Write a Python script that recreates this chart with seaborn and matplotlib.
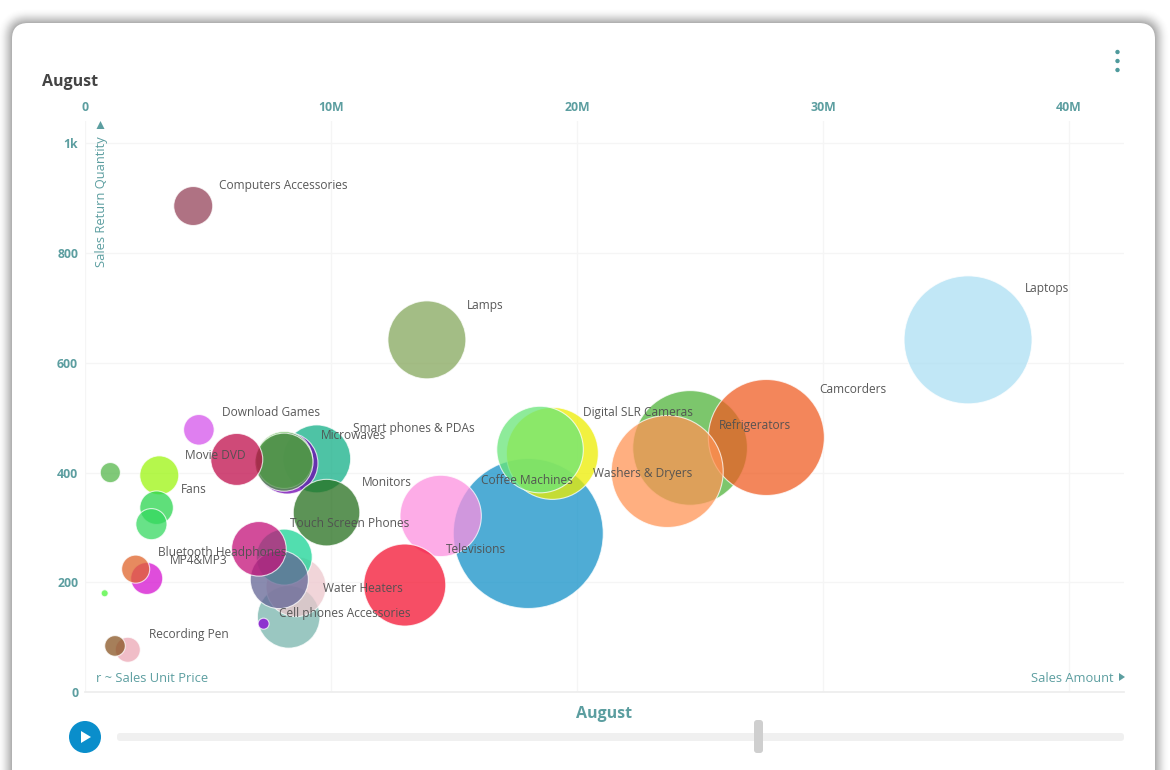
import numpy as np
import pandas as pd
import matplotlib.pyplot as plt
from matplotlib.patches import Circle, FancyBboxPatch, Polygon
from matplotlib.transforms import IdentityTransform
import seaborn as sns

# ── Data (empty name = bubble has no visible label) ──────────────────
names = [
    "", "", "Computers Accessories", "Lamps", "Laptops", "", "Camcorders",
    "Refrigerators", "Washers & Dryers", "", "Digital SLR Cameras",
    "Coffee Machines", "Televisions", "Smart phones & PDAs", "Microwaves", "",
    "", "", "Monitors", "Movie DVD", "Fans", "", "Download Games",
    "Water Heaters", "", "", "", "Touch Screen Phones",
    "Cell phones Accessories", "MP4&MP3", "Bluetooth Headphones",
    "Recording Pen", "",
]
sales_amount = [
    1.03, 0.80, 4.40, 13.9, 35.9, 24.6, 27.7,
    23.67, 18.02, 19.0, 18.5,
    14.46, 13.0, 9.42, 8.22, 8.10,
    8.09, 6.17, 9.82, 3.02, 2.91, 2.70, 4.63,
    8.28, 8.58, 8.10, 7.90, 7.07,
    7.26, 2.51, 2.06,
    1.74, 1.22,
]
return_qty = [
    400, 180, 886, 642, 642, 445, 464,
    402, 289, 435, 442,
    321, 195, 425, 417, 423,
    419, 424, 327, 395, 336, 306, 478,
    137, 192, 246, 205, 261,
    124.5, 207, 224,
    77, 84,
]
unit_price = [
    18, 2.2, 67.6, 270, 728, 584, 598,
    557, 1000, 376, 333,
    294, 299, 205, 168, 144,
    150, 120, 197, 67.6, 50, 43, 41.6,
    174, 160, 139, 150, 132.5,
    5.4, 45.5, 35,
    27.8, 18.9,
]
colors = [
    "#55B74B", "#4BF538", "#954359", "#85A75C", "#ACDFF3", "#50B43B", "#EF5D24",
    "#FF9455", "#1491C8", "#EDED00", "#69E578",
    "#FD91E0", "#F41331", "#13AF87", "#6F00B1", "#50B43B",
    "#4F9448", "#C00D4B", "#256F1D", "#9CF510", "#29D54D", "#35D960", "#D554EB",
    "#78B5AD", "#EDC7CD", "#18D495", "#636595", "#C31079",
    "#8B00D5", "#D511D0", "#DF6329",
    "#ECA7B5", "#885423",
]
x_ticks = [0, 10, 20, 30, 40]
x_tick_labels = ["0", "10M", "20M", "30M", "40M"]
y_ticks = [0, 200, 400, 600, 800, 1000]
y_tick_labels = ["0", "200", "400", "600", "800", "1k"]

TEAL = "#5C9EA0"
W, H = 1170, 770
FONT = "Open Sans"

df = pd.DataFrame({"amount": sales_amount, "qty": return_qty, "price": unit_price})
df["id"] = df.index

sns.set_theme(style="white")
plt.rcParams["font.family"] = FONT

fig = plt.figure(figsize=(W / 100, H / 100), dpi=100, facecolor="white")
px = IdentityTransform()


def add_px(patch):
    patch.set_transform(px)
    patch.set_zorder(-1)
    fig.add_artist(patch)


def label_px(x, y, s, **kw):
    fig.text(x / W, 1 - y / H, s, **kw)


# ── Card with soft shadow ────────────────────────────────────────────
for grow in range(14, 0, -1):
    add_px(FancyBboxPatch((12 - grow, -60 - grow), 1143 + 2 * grow, 807 + 2 * grow,
                          boxstyle=f"round,pad=0,rounding_size={16 + grow}",
                          fc="black", ec="none", alpha=0.0032 * (15 - grow)))
add_px(FancyBboxPatch((12, -60), 1143, 807, boxstyle="round,pad=0,rounding_size=16",
                      fc="white", ec="none"))

# ── Bubble chart ─────────────────────────────────────────────────────
ax = fig.add_axes([85 / W, 1 - 692 / H, (1124 - 85) / W, (692 - 121) / H])
ax.patch.set_alpha(0)
S_MAX = (2 * 75 * 0.72) ** 2
sns.scatterplot(
    data=df, x="amount", y="qty", hue="id", palette=colors, size="price",
    sizes=(0, S_MAX), size_norm=(0, 1000), alpha=0.75, edgecolor="white",
    linewidth=0.8, legend=False, ax=ax, zorder=3,
)
ax.set_xlim(0, 42.24)
ax.set_ylim(0, 1041)
ax.set_xlabel("")
ax.set_ylabel("")

ax.xaxis.tick_top()
ax.set_xticks(x_ticks)
ax.set_xticklabels(x_tick_labels, fontsize=8.8, fontweight="bold", color=TEAL)
ax.set_yticks(y_ticks)
ax.set_yticklabels(y_tick_labels, fontsize=8.8, fontweight="bold", color=TEAL)
ax.tick_params(axis="x", length=0, pad=5)
ax.tick_params(axis="y", length=0, pad=5)
ax.grid(True, color="#F5F5F5", linewidth=1)
ax.set_axisbelow(True)
ax.spines[["top", "right", "left"]].set_visible(False)
ax.spines["bottom"].set_color("#EDEDED")

# Labels sit up-right of each bubble, offset with its radius
for name, amount, qty, price in zip(names, sales_amount, return_qty, unit_price):
    if not name:
        continue
    r = 75 * np.sqrt(price / 1000)
    ax.annotate(
        name, (amount, qty), xytext=(0.707 * r + 12, 0.707 * r + 6.5),
        textcoords="offset pixels", ha="left", va="center",
        fontsize=8.6, color="#505050", alpha=0.95, zorder=5,
    )

# ── Axis captions ────────────────────────────────────────────────────
label_px(102, 267, "Sales Return Quantity", rotation=90, ha="center", va="bottom",
         fontsize=9.25, color=TEAL)
add_px(Polygon([(96.5, H - 129), (104.5, H - 129), (100.5, H - 121)], fc=TEAL, ec="none"))
label_px(96, 678.5, "r ~ Sales Unit Price", ha="left", va="center", fontsize=9.25, color=TEAL)
label_px(1113.5, 678.5, "Sales Amount", ha="right", va="center", fontsize=9.25, color=TEAL)
add_px(Polygon([(1119, H - 673), (1119, H - 681), (1125, H - 677)], fc=TEAL, ec="none"))

# ── Header ───────────────────────────────────────────────────────────
label_px(42, 82, "August", ha="left", va="center", fontsize=11.5, fontweight="bold",
         color="#444444")
for y in (52, 61, 70):
    add_px(Circle((1117.5, H - y), 2.2, fc="#4E9A9C", ec="none"))

# ── Play control and slider ──────────────────────────────────────────
label_px(604.5, 714.5, "August", ha="center", va="center", fontsize=11.5,
         fontweight="bold", color=TEAL)
add_px(Circle((85, H - 737), 16, fc="#0A8ECB", ec="none"))
add_px(Polygon([(81, H - 731), (81, H - 743), (91, H - 737)], fc="white", ec="none"))
add_px(FancyBboxPatch((117, H - 741), 1007, 8, boxstyle="round,pad=0,rounding_size=3",
                      fc="#F0F0F0", ec="none"))
add_px(FancyBboxPatch((754, H - 753), 9, 33, boxstyle="round,pad=0,rounding_size=3",
                      fc="#CFCFCF", ec="none"))

fig.savefig("out.png", dpi=100)
